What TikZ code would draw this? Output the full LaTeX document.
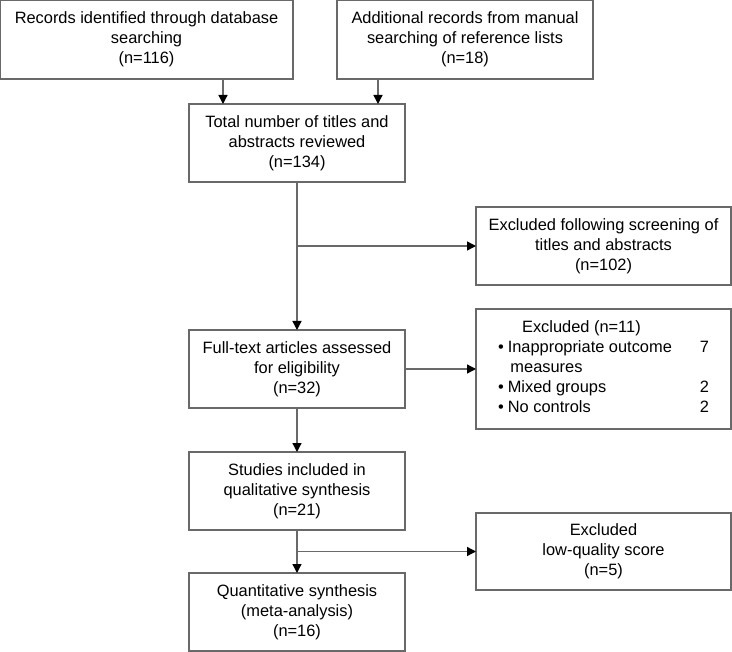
\documentclass[tikz,border=0pt]{standalone}
\usepackage{fontspec}
\setmainfont{Liberation Sans}
\usetikzlibrary{arrows.meta, positioning, calc}
\definecolor{lineGrey}{RGB}{105, 105, 105}

\begin{document}
\begin{tikzpicture}[x=0.75pt, y=-0.75pt,
    box/.style={draw=lineGrey, line width=1pt, inner sep=0pt, outer sep=0pt, align=center, font=\fontsize{12.3}{15}\selectfont},
    arrow/.style={draw=lineGrey, line width=1pt, -{Triangle[width=6.75pt, length=6.75pt, color=black]}}]
    \useasboundingbox (0,0) rectangle (732,652);
    % Identification
    \node[box, minimum width=219.75pt, minimum height=59.25pt] (rec1) at (146.5,39.5) {Records identified through database\\searching\\(n=116)};
    \node[box, minimum width=192pt, minimum height=59.25pt] (rec2) at (465,39.5) {Additional records from manual\\searching of reference lists\\(n=18)};
    % Screening
    \node[box, minimum width=162pt, minimum height=58.5pt] (tot) at (297,143) {Total number of titles and\\abstracts reviewed\\(n=134)};
    \node[box, minimum width=191.25pt, minimum height=58.5pt] (ex1) at (603.5,246) {Excluded following screening of\\titles and abstracts\\(n=102)};
    % Eligibility
    \node[box, minimum width=162pt, minimum height=58.5pt] (full) at (297,369) {Full-text articles assessed\\for eligibility\\(n=32)};
    \node[box, minimum width=191.25pt, minimum height=90pt] (ex2) at (603.5,369) {%
      \begin{tabular}{@{}l@{\hspace{3pt}}p{144pt}@{}r@{}}
        \multicolumn{3}{@{\hspace{18pt}}l}{Excluded (n=11)}\\
        \textbullet & Inappropriate outcome & 7\\
                    & \hspace{2pt}measures & \\
        \textbullet & Mixed groups & 2\\
        \textbullet & No controls & 2
      \end{tabular}};
    % Included
    \node[box, minimum width=162pt, minimum height=58.5pt] (stud) at (297,491) {Studies included in\\qualitative synthesis\\(n=21)};
    \node[box, minimum width=191.25pt, minimum height=57.75pt] (ex3) at (603.5,551.5) {Excluded\\low-quality score\\(n=5)};
    \node[box, minimum width=162pt, minimum height=58.5pt] (quant) at (297,612) {Quantitative synthesis\\(meta-analysis)\\(n=16)};
    % Connectors
    \coordinate (in1) at ($(tot.north west)+(34,0)$);
    \coordinate (in2) at ($(tot.north east)+(-27,0)$);
    \draw[arrow] (rec1.south -| in1) -- (in1);
    \draw[arrow] (rec2.south -| in2) -- (in2);
    \draw[arrow] (tot.south) -- (full.north);
    \draw[arrow] (tot.south |- ex1.west) -- (ex1.west);
    \draw[arrow] (full.east) -- (ex2.west);
    \draw[arrow] (full.south) -- (stud.north);
    \draw[arrow] (stud.south) -- (quant.north);
    \draw[arrow] (stud.south |- ex3.west) -- (ex3.west);
\end{tikzpicture}
\end{document}
